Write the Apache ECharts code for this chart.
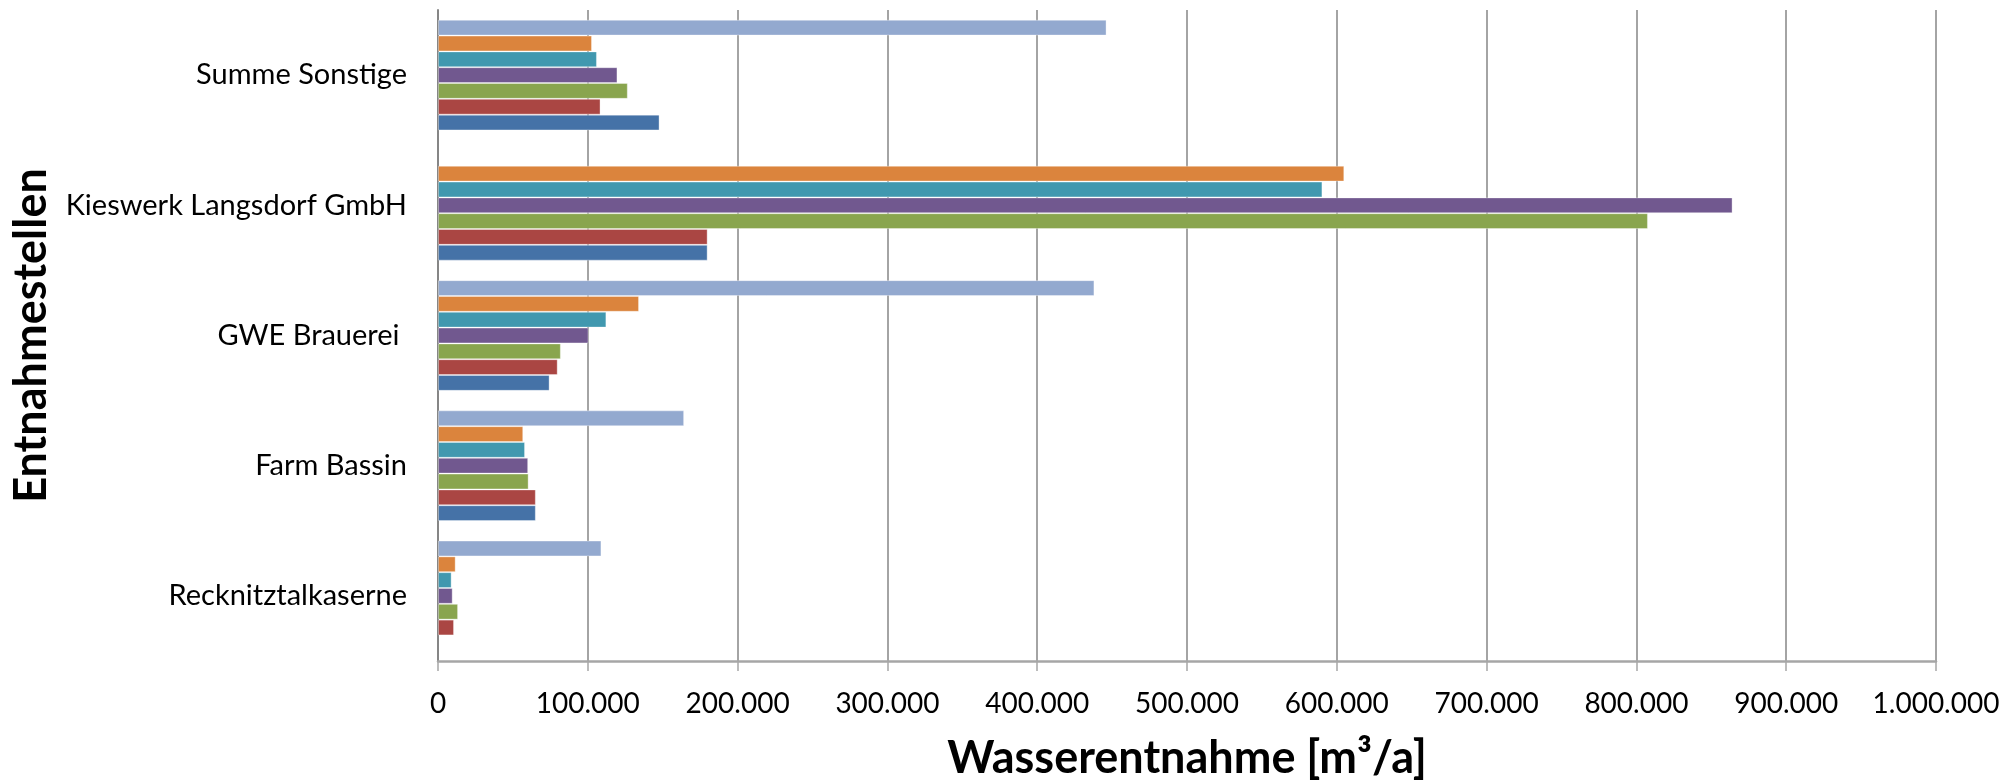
<!DOCTYPE html>
<html>
<head>
<meta charset="utf-8">
<script src="https://cdn.jsdelivr.net/npm/echarts@6/dist/echarts.min.js"></script>
<style>
html,body{margin:0;padding:0;background:#fff;}
#chart{width:2012px;height:783px;}
</style>
</head>
<body>
<div id="chart"></div>
<script>
const categories = ['Recknitztalkaserne', 'Farm Bassin', 'GWE Brauerei ', 'Kieswerk Langsdorf GmbH', 'Summe Sonstige'];
const xTicks = [0, 100000, 200000, 300000, 400000, 500000, 600000, 700000, 800000, 900000, 1000000];
const seriesNames = ['Reihe 1', 'Reihe 2', 'Reihe 3', 'Reihe 4', 'Reihe 5', 'Reihe 6', 'Reihe 7'];
const reihe1 = [null, 65300, 74500, 180000, 147900];
const reihe2 = [10700, 65300, 79900, 180000, 108500];
const reihe3 = [13400, 60500, 82000, 807700, 126700];
const reihe4 = [9800, 60200, 100500, 864200, 119800];
const reihe5 = [9100, 58100, 112400, 590400, 106100];
const reihe6 = [11800, 56900, 134200, 605000, 102800];
const reihe7 = [109100, 164300, 438200, null, 446300];
const colors = ['#4572A7', '#AA4643', '#89A54E', '#71588F', '#4198AF', '#DB843D', '#93A9CF'];

const allData = [reihe1, reihe2, reihe3, reihe4, reihe5, reihe6, reihe7];
const FONT = 'Lato';

// ECharts stacks the first series at the top of each band; Excel puts series 1 at the bottom,
// so add the series in reverse order.
const series = allData.map((d, i) => ({
  name: seriesNames[i],
  type: 'bar',
  data: d,
  barGap: '0%',
  barCategoryGap: '15%',
  itemStyle: { color: colors[i], borderColor: 'rgba(255,255,255,0.35)', borderWidth: 1 },
  emphasis: { disabled: true }
})).reverse();

const chart = echarts.init(document.getElementById('chart'), null, { renderer: 'canvas' });
chart.setOption({
  backgroundColor: '#ffffff',
  animation: false,
  grid: { left: 438, right: 76, top: 10, bottom: 122, containLabel: false, outerBoundsMode: 'none' },
  xAxis: {
    type: 'value',
    min: xTicks[0],
    max: xTicks[xTicks.length - 1],
    interval: xTicks[1] - xTicks[0],
    name: 'Wasserentnahme [m³/a]',
    nameLocation: 'middle',
    nameGap: 75,
    nameTextStyle: { fontFamily: FONT, fontSize: 45, fontWeight: 'bold', color: '#000' },
    axisLine: { show: true, lineStyle: { color: '#a6a6a6', width: 2.5 } },
    axisTick: { show: true, length: 10, lineStyle: { color: '#a6a6a6', width: 1.5 } },
    axisLabel: {
      fontFamily: FONT, fontSize: 28, color: '#000', margin: 29,
      formatter: v => v.toLocaleString('de-DE')
    },
    splitLine: { show: true, lineStyle: { color: '#868686', width: 1.5 } }
  },
  yAxis: {
    type: 'category',
    data: categories,
    name: 'Entnahmestellen',
    nameLocation: 'middle',
    nameGap: 384,
    nameTextStyle: { fontFamily: FONT, fontSize: 45, fontWeight: 'bold', color: '#000' },
    axisLine: { show: true, lineStyle: { color: '#868686', width: 2 } },
    axisTick: { show: false },
    axisLabel: { fontFamily: FONT, fontSize: 29, color: '#000', margin: 31 },
    splitLine: { show: false }
  },
  series: series
});
</script>
</body>
</html>
